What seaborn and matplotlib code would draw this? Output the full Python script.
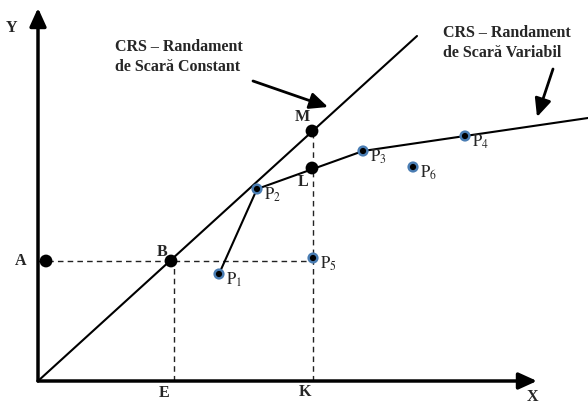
import matplotlib
matplotlib.use('Agg')
import matplotlib.pyplot as plt
import seaborn as sns
import pandas as pd

# firm observations (input X, output Y)
firm_names = ['P1', 'P2', 'P3', 'P4', 'P5', 'P6']
firm_x = [181, 219, 325, 427, 275, 375]
firm_y = [107, 192, 230, 245, 123, 214]

# VRS frontier goes through P1 -> P2 -> P3 -> P4 and on
vrs_x = [181, 219, 325, 427, 550]
vrs_y = [107, 192, 230, 245, 263]

# CRS frontier from origin
crs_x = [0, 379]
crs_y = [0, 345]

# reference points on the axes / frontiers
ref_names = ['A', 'B', 'L', 'M']
ref_x = [8, 133, 274, 274]
ref_y = [120, 120, 213, 250]

E_x = 136
K_x = 275

sns.set_style('white')
plt.rcParams['font.family'] = ['Liberation Serif', 'DejaVu Serif']
plt.rcParams['mathtext.fontset'] = 'stix'

fig = plt.figure(figsize=(5.88, 4.05), dpi=100)
ax = fig.add_axes([0, 0, 1, 1])
ax.set_xlim(-38, 550)
ax.set_ylim(-24, 381)
ax.axis('off')

# dashed guides
dash = dict(color='#222222', lw=1, dashes=(4, 3))
ax.plot([0, K_x], [ref_y[0], ref_y[0]], **dash)
ax.plot([E_x, E_x], [0, ref_y[1]], **dash)
ax.plot([K_x, K_x], [0, ref_y[3]], **dash)

# frontiers
sns.lineplot(x=crs_x, y=crs_y, ax=ax, color='black', lw=1.5, sort=False)
sns.lineplot(x=vrs_x, y=vrs_y, ax=ax, color='black', lw=1.5, sort=False)

# axes with arrow heads
ax.annotate('', xy=(499, 0), xytext=(0, 0),
            arrowprops=dict(arrowstyle='-|>,head_length=1.1,head_width=0.5',
                            color='black', lw=2.5, shrinkA=0, shrinkB=0))
ax.annotate('', xy=(0, 373), xytext=(0, 0),
            arrowprops=dict(arrowstyle='-|>,head_length=1.1,head_width=0.5',
                            color='black', lw=2.5, shrinkA=0, shrinkB=0))

# firms: blue ring with black centre
firms = pd.DataFrame({'x': firm_x, 'y': firm_y, 'name': firm_names})
sns.scatterplot(data=firms, x='x', y='y', ax=ax, s=65, color='#4a7db3',
                edgecolor='none', zorder=4)
sns.scatterplot(data=firms, x='x', y='y', ax=ax, s=20, color='black',
                edgecolor='none', zorder=5)

refs = pd.DataFrame({'x': ref_x, 'y': ref_y, 'name': ref_names})
sns.scatterplot(data=refs, x='x', y='y', ax=ax, s=85, color='black',
                edgecolor='none', zorder=5)

# labels
for name, x, y in zip(firm_names, firm_x, firm_y):
    ax.text(x + 7, y - 6, r'$\mathrm{P}_{%s}$' % name[1:], fontsize=12,
            ha='left', va='center')

bold = dict(fontsize=11.5, fontweight='bold', ha='center', va='center')
ax.text(-17, 120, 'A', **bold)
ax.text(124, 129, 'B', **bold)
ax.text(265, 199, 'L', **bold)
ax.text(264, 264, 'M', **bold)
ax.text(126, -12, 'E', **bold)
ax.text(267, -11, 'K', **bold)
ax.text(494, -16, 'X', **bold)
ax.text(-26, 353, 'Y', **bold)

ax.text(77, 324, 'CRS – Randament\nde Scară Constant', fontsize=11.5,
        fontweight='bold', ha='left', va='center', linespacing=1.3)
ax.text(405, 338, 'CRS – Randament\nde Scară Variabil', fontsize=11.5,
        fontweight='bold', ha='left', va='center', linespacing=1.3)

ax.annotate('', xy=(290, 274), xytext=(215, 300),
            arrowprops=dict(arrowstyle='-|>,head_length=1.1,head_width=0.5',
                            color='black', lw=2, shrinkA=0, shrinkB=0))
ax.annotate('', xy=(499, 264), xytext=(515, 312),
            arrowprops=dict(arrowstyle='-|>,head_length=1.1,head_width=0.5',
                            color='black', lw=2, shrinkA=0, shrinkB=0))

fig.savefig('out.png', dpi=100)
